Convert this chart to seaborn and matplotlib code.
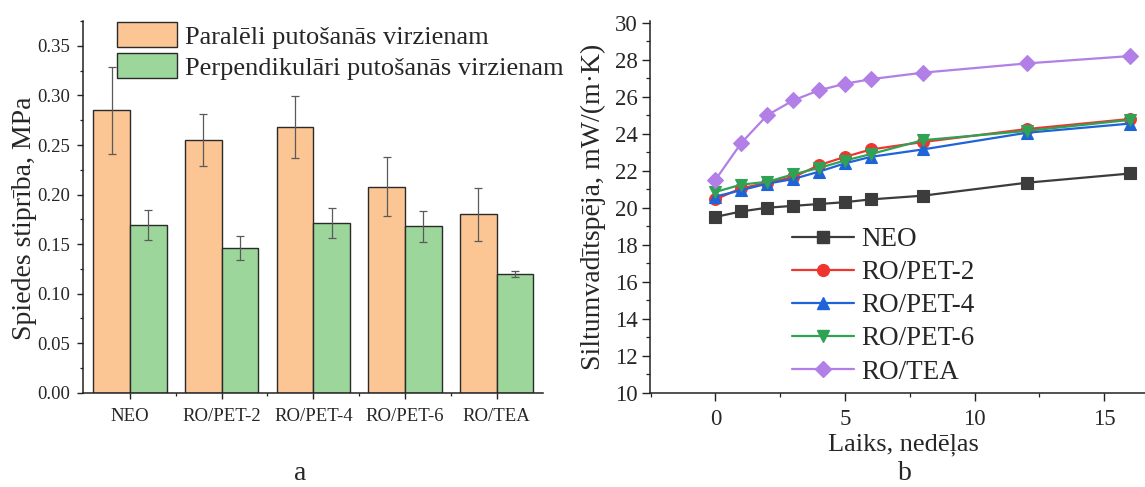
import numpy as np
import pandas as pd
import matplotlib
matplotlib.use("Agg")
import matplotlib.pyplot as plt
from matplotlib.lines import Line2D
from matplotlib.ticker import MultipleLocator
import seaborn as sns

# ---------------- data ----------------
samples = ["NEO", "RO/PET-2", "RO/PET-4", "RO/PET-6", "RO/TEA"]
directions = ["Paralēli putošanās virzienam", "Perpendikulāri putošanās virzienam"]
parallel_mean = [0.285, 0.255, 0.268, 0.208, 0.180]
parallel_err = [0.044, 0.026, 0.031, 0.030, 0.027]
perp_mean = [0.169, 0.146, 0.171, 0.168, 0.120]
perp_err = [0.015, 0.0125, 0.015, 0.0155, 0.003]

weeks = [0, 1, 2, 3, 4, 5, 6, 8, 12, 16]
neo = [19.5, 19.8, 20.0, 20.1, 20.2, 20.3, 20.45, 20.65, 21.35, 21.85]
ro_pet2 = [20.45, 21.05, 21.35, 21.65, 22.3, 22.75, 23.15, 23.55, 24.25, 24.8]
ro_pet4 = [20.6, 20.95, 21.3, 21.55, 21.95, 22.4, 22.75, 23.15, 24.05, 24.55]
ro_pet6 = [20.85, 21.25, 21.4, 21.8, 22.15, 22.55, 22.9, 23.65, 24.15, 24.75]
ro_tea = [21.5, 23.5, 25.0, 25.8, 26.35, 26.7, 26.95, 27.3, 27.8, 28.2]

bar_colors = ["#FCC594", "#9CD69B"]
line_colors = ["#3c3c3c", "#EE3530", "#1E63D8", "#2FA255", "#B27FE6"]
line_markers = ["s", "o", "^", "v", "D"]

# ---------------- style ----------------
sns.set_style("ticks")
plt.rcParams["font.family"] = ["Liberation Serif", "DejaVu Serif"]
plt.rcParams["mathtext.fontset"] = "stix"

fig = plt.figure(figsize=(11.45, 4.87), dpi=100)
W, H = 1145.0, 487.0

def axes_px(left, top, right, bottom):
    return fig.add_axes([left / W, 1 - bottom / H, (right - left) / W, (bottom - top) / H])

ax1 = axes_px(82.7, 20.7, 543.0, 392.7)
ax2 = axes_px(650.0, 20.7, 1145.0, 392.7)

# ---------------- panel a ----------------
df_a = pd.DataFrame({
    "sample": samples * 2,
    "direction": [directions[0]] * len(samples) + [directions[1]] * len(samples),
    "value": parallel_mean + perp_mean,
})
sns.barplot(data=df_a, x="sample", y="value", hue="direction", order=samples,
            hue_order=directions, palette=bar_colors, saturation=1, width=0.8,
            gap=0, edgecolor="#2a2a2a", linewidth=1.0, errorbar=None, ax=ax1)

for cont, errs in zip(ax1.containers, [parallel_err, perp_err]):
    xs = [p.get_x() + p.get_width() / 2 for p in cont.patches]
    ys = [p.get_height() for p in cont.patches]
    ax1.errorbar(xs, ys, yerr=errs, fmt="none", ecolor="#5a5a5a",
                 elinewidth=0.9, capsize=2.6, capthick=0.9, zorder=3)

ax1.set_xlim(-0.515, 4.505)
ax1.set_ylim(0, 0.3755)
ax1.yaxis.set_major_locator(MultipleLocator(0.05))
ax1.yaxis.set_minor_locator(MultipleLocator(0.025))
ax1.yaxis.set_major_formatter(matplotlib.ticker.FormatStrFormatter("%.2f"))
ax1.xaxis.set_minor_locator(matplotlib.ticker.FixedLocator([0.5, 1.5, 2.5, 3.5]))
ax1.tick_params(axis="y", which="major", length=4.5, width=1.0, labelsize=13.5, pad=4.5, color="#222222")
ax1.tick_params(axis="x", which="major", length=4.5, width=1.0, labelsize=13.5, pad=6.5, color="#222222")
ax1.tick_params(which="minor", length=2.5, width=0.9, color="#222222")
ax1.set_xlabel("")
ax1.set_ylabel("Spiedes stiprība, MPa", fontsize=20)
ax1.yaxis.set_label_coords(-0.10, 0.47)
for s in ["top", "right"]:
    ax1.spines[s].set_visible(False)
for s in ["left", "bottom"]:
    ax1.spines[s].set_linewidth(1.1)
    ax1.spines[s].set_color("#222222")

h, l = ax1.get_legend_handles_labels()
ax1.legend(h, l, loc="upper left", bbox_to_anchor=(116.7 / W, 1 - 22.0 / H),
           bbox_transform=fig.transFigure, frameon=False, fontsize=19,
           handlelength=2.27, handleheight=1.1, handletextpad=0.3,
           labelspacing=0.16, borderpad=0, borderaxespad=0)

# ---------------- panel b ----------------
df_b = pd.DataFrame({
    "week": weeks * 5,
    "value": neo + ro_pet2 + ro_pet4 + ro_pet6 + ro_tea,
    "sample": np.repeat(samples, len(weeks)),
})
sns.lineplot(data=df_b, x="week", y="value", hue="sample", style="sample",
             hue_order=samples, style_order=samples, palette=line_colors,
             markers=line_markers, dashes=False, markersize=8.5, linewidth=1.6,
             errorbar=None, legend=False, ax=ax2)
for line in ax2.lines:
    line.set_markeredgecolor(line.get_color())
    line.set_markeredgewidth(0.8)

ax2.set_xlim(-2.52, 16.57)
ax2.set_ylim(10, 30.11)
ax2.xaxis.set_major_locator(MultipleLocator(5))
ax2.xaxis.set_minor_locator(MultipleLocator(2.5))
ax2.yaxis.set_major_locator(MultipleLocator(2))
ax2.yaxis.set_minor_locator(MultipleLocator(1))
ax2.tick_params(which="major", length=6, width=1.0, labelsize=16.5, pad=3, color="#222222")
ax2.tick_params(axis="x", which="major", pad=6)
ax2.tick_params(which="minor", length=3, width=0.9, color="#222222")
ax2.set_xlabel("Laiks, nedēļas", fontsize=19)
ax2.set_ylabel("Siltumvadītspēja, mW/(m·K)", fontsize=20)
ax2.yaxis.set_label_coords(-0.088, 0.5)
ax2.xaxis.set_label_coords(0.511, -0.11)
for s in ["top", "right"]:
    ax2.spines[s].set_visible(False)
for s in ["left", "bottom"]:
    ax2.spines[s].set_linewidth(1.1)
    ax2.spines[s].set_color("#222222")

handles = [Line2D([0], [0], color=c, marker=m, markersize=8.5, linewidth=1.6,
                  markeredgecolor=c) for c, m in zip(line_colors, line_markers)]
ax2.legend(handles, samples, loc="upper left", bbox_to_anchor=(792.0 / W, 1 - 227.0 / H),
           bbox_transform=fig.transFigure, frameon=False, fontsize=19.5,
           handlelength=2.3, handletextpad=0.25, labelspacing=0.3,
           borderpad=0, borderaxespad=0)

# ---------------- subcaptions ----------------
fig.text(300 / W, 1 - 473 / H, "a", ha="center", va="center", fontsize=20)
fig.text(905 / W, 1 - 473 / H, "b", ha="center", va="center", fontsize=20)

fig.savefig("out.png", dpi=100)
